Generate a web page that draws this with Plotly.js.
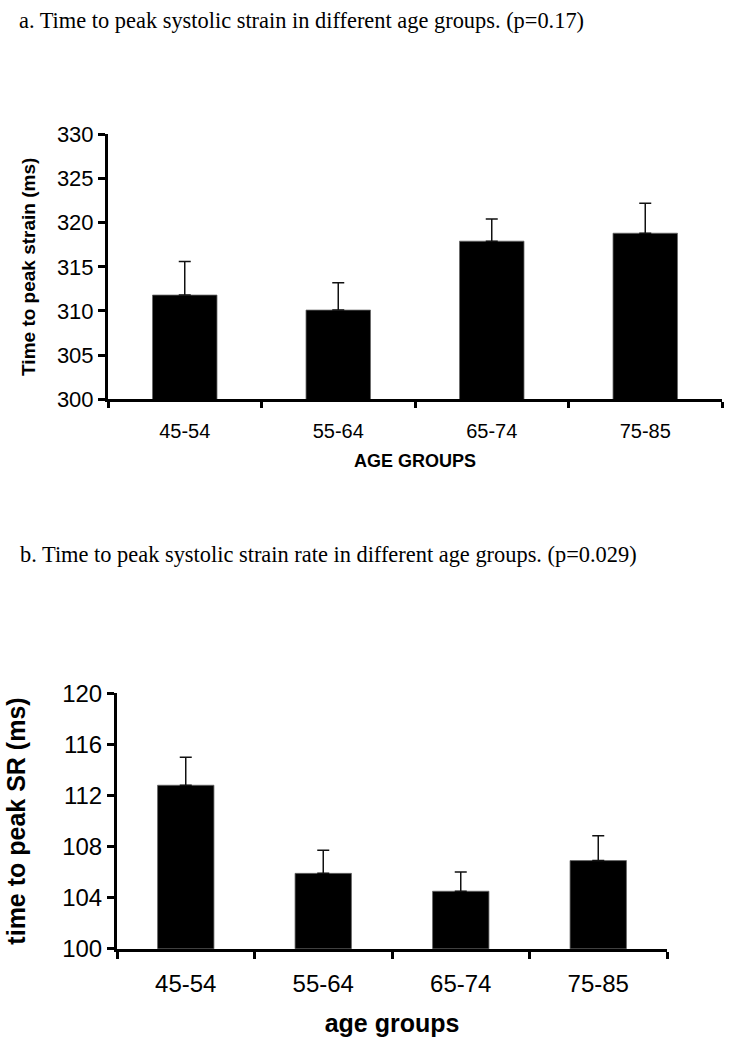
<!DOCTYPE html>
<html>
<head>
<meta charset="utf-8">
<script src="https://cdn.plot.ly/plotly-3.0.1.min.js"></script>
<style>html,body{margin:0;padding:0;background:#fff;}#chart{width:735px;height:1050px;}</style>
</head>
<body>
<div id="chart"></div>
<script>
const categories = ["45-54", "55-64", "65-74", "75-85"];
const strainValues = [311.8, 310.1, 317.9, 318.8];
const strainErrors = [3.8, 3.1, 2.5, 3.4];
const srValues = [112.8, 105.9, 104.5, 106.9];
const srErrors = [2.2, 1.8, 1.5, 1.95];
const titleA = "a. Time to peak systolic strain in different age groups. (p=0.17)";
const titleB = "b. Time to peak systolic strain rate in different age groups. (p=0.029)";

const W = 735, H = 1050;
const px = v => v / W;
const py = v => 1 - v / H;

const errStyle = {type: "data", symmetric: false, color: "#111", thickness: 1.5, width: 6};

const traces = [
  {
    type: "bar", x: categories, y: strainValues, xaxis: "x", yaxis: "y",
    marker: {color: "#000", line: {color: "#666", width: 0.8}},
    width: 0.42,
    error_y: Object.assign({array: strainErrors, arrayminus: strainErrors.map(() => 0)}, errStyle),
    hoverinfo: "x+y"
  },
  {
    type: "bar", x: categories, y: srValues, xaxis: "x2", yaxis: "y2",
    marker: {color: "#000", line: {color: "#666", width: 0.8}},
    width: 0.41,
    error_y: Object.assign({array: srErrors, arrayminus: srErrors.map(() => 0)}, errStyle),
    hoverinfo: "x+y"
  }
];

const axisFont = {family: "Arial, 'Liberation Sans', sans-serif", color: "#000"};

const layout = {
  width: W, height: H,
  margin: {l: 0, r: 0, t: 0, b: 0},
  paper_bgcolor: "#fff", plot_bgcolor: "#fff",
  showlegend: false,
  xaxis: {
    domain: [px(108), px(722)], anchor: "y",
    type: "category", tickson: "boundaries",
    showline: true, linecolor: "#000", linewidth: 3,
    ticks: "outside", ticklen: 6, tickwidth: 3, tickcolor: "#000",
    showgrid: false, zeroline: false,
    tickfont: Object.assign({size: 20}, axisFont),
    ticklabelstandoff: 12,
    title: {text: "AGE GROUPS", font: Object.assign({size: 18, weight: "bold"}, axisFont), standoff: 14}
  },
  yaxis: {
    domain: [py(399.3), py(134.3)], anchor: "x",
    range: [300, 330], dtick: 5, tick0: 300,
    showline: true, linecolor: "#000", linewidth: 3,
    ticks: "outside", ticklen: 7, tickwidth: 3, tickcolor: "#000",
    showgrid: false, zeroline: false,
    tickfont: Object.assign({size: 22}, axisFont),
    title: {text: "Time to peak strain (ms)", font: Object.assign({size: 19, weight: "bold"}, axisFont), standoff: 17}
  },
  xaxis2: {
    domain: [px(117), px(667)], anchor: "y2",
    type: "category", tickson: "boundaries",
    showline: true, linecolor: "#000", linewidth: 3,
    ticks: "outside", ticklen: 7, tickwidth: 3, tickcolor: "#000",
    showgrid: false, zeroline: false,
    tickfont: Object.assign({size: 24}, axisFont),
    ticklabelstandoff: 11,
    title: {text: "age groups", font: Object.assign({size: 25, weight: "bold"}, axisFont), standoff: 19}
  },
  yaxis2: {
    domain: [py(948.7), py(693.3)], anchor: "x2",
    range: [100, 120], dtick: 4, tick0: 100,
    showline: true, linecolor: "#000", linewidth: 3,
    ticks: "outside", ticklen: 7, tickwidth: 3, tickcolor: "#000",
    showgrid: false, zeroline: false,
    tickfont: Object.assign({size: 24}, axisFont),
    title: {text: "time to peak SR (ms)", font: Object.assign({size: 25, weight: "bold"}, axisFont), standoff: 30}
  },
  annotations: [
    {text: titleA, xref: "paper", yref: "paper", x: px(17), y: py(20), xanchor: "left", yanchor: "middle", showarrow: false,
     font: {family: "'Liberation Serif', 'Times New Roman', serif", size: 22.4, color: "#000"}},
    {text: titleB, xref: "paper", yref: "paper", x: px(18), y: py(554), xanchor: "left", yanchor: "middle", showarrow: false,
     font: {family: "'Liberation Serif', 'Times New Roman', serif", size: 22.4, color: "#000"}}
  ]
};

Plotly.newPlot("chart", traces, layout, {displayModeBar: false, staticPlot: true});
</script>
</body>
</html>
